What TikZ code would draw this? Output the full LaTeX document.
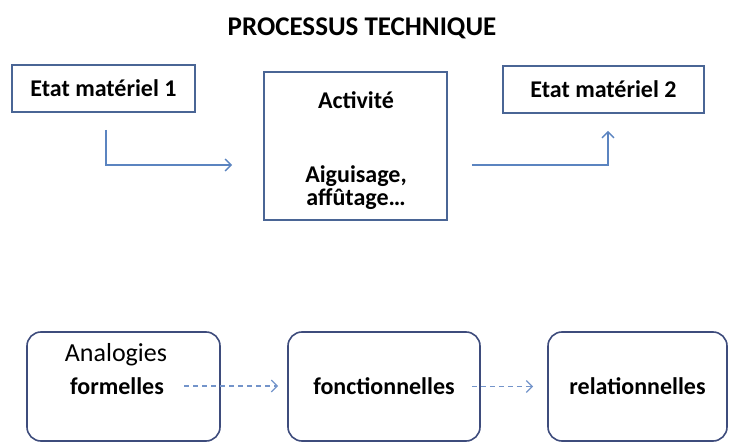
\documentclass[tikz,border=0pt]{standalone}
\usepackage{fontspec}
\setmainfont{Carlito}
\usetikzlibrary{positioning,arrows.meta}

\definecolor{boxblue}{HTML}{4A6595}
\definecolor{flowblue}{HTML}{5B84C0}
\definecolor{roundblue}{HTML}{3E4C7C}
\definecolor{dashblue}{HTML}{7394CA}

\begin{document}
\begin{tikzpicture}[x=1pt,y=-1pt,>={Straight Barb[length=6pt,width=12pt]},
    etat/.style={draw=boxblue,line width=1.8pt,inner sep=0pt,
        font=\bfseries\fontsize{24}{23}\selectfont},
    phase/.style={draw=roundblue,line width=1.6pt,rounded corners=14pt,
        inner sep=0pt,minimum height=109pt,
        font=\bfseries\fontsize{24}{23}\selectfont},
    flow/.style={->,flowblue,line width=1.4pt},
    analog/.style={->,dashblue,line width=1.3pt,dash pattern=on 5pt off 4pt}
]
\useasboundingbox (0,0) rectangle (729,444);

\node[font=\bfseries\fontsize{27}{30}\selectfont] (titre) at (362,28) {PROCESSUS TECHNIQUE};

% processus technique
\node[etat,minimum width=183pt,minimum height=47pt] (etat1) at (103.5,88.5) {Etat matériel 1};
\node[etat,minimum width=183pt,minimum height=148pt] (activite) at (355.5,146) {};
\node[font=\bfseries\fontsize{24}{23}\selectfont,align=center] (acttxt) at (356,151)
    {Activité\\[51pt]Aiguisage,\\affûtage…};
\node[etat,minimum width=201pt,minimum height=47pt] (etat2) at (603.5,89.5) {Etat matériel 2};

\draw[flow,shorten <=17pt,shorten >=31pt] ([xshift=2.5pt]etat1.south) |- (activite.west |- 0,165);
\draw[flow,shorten <=24pt,shorten >=17pt] (activite.east |- 0,165) -| ([xshift=4.5pt]etat2.south);

% analogies
\node[phase,minimum width=193pt] (formel) at (123.5,386.5) {};
\node[font=\fontsize{26}{28}\selectfont] (ana) at (116,355) {Analogies};
\node[font=\bfseries\fontsize{24}{23}\selectfont] (form) at (117,386) {formelles};
\node[phase,minimum width=192pt] (fonct) at (384,386.5) {fonctionnelles};
\node[phase,minimum width=179pt] (relat) at (637.5,386.5) {relationnelles};

\draw[analog,shorten <=17pt,shorten >=9pt] (form.east) -- (fonct.west |- form.east);
\draw[analog,shorten >=14pt] ([xshift=-9pt]fonct.east) -- (relat.west);
\end{tikzpicture}
\end{document}
